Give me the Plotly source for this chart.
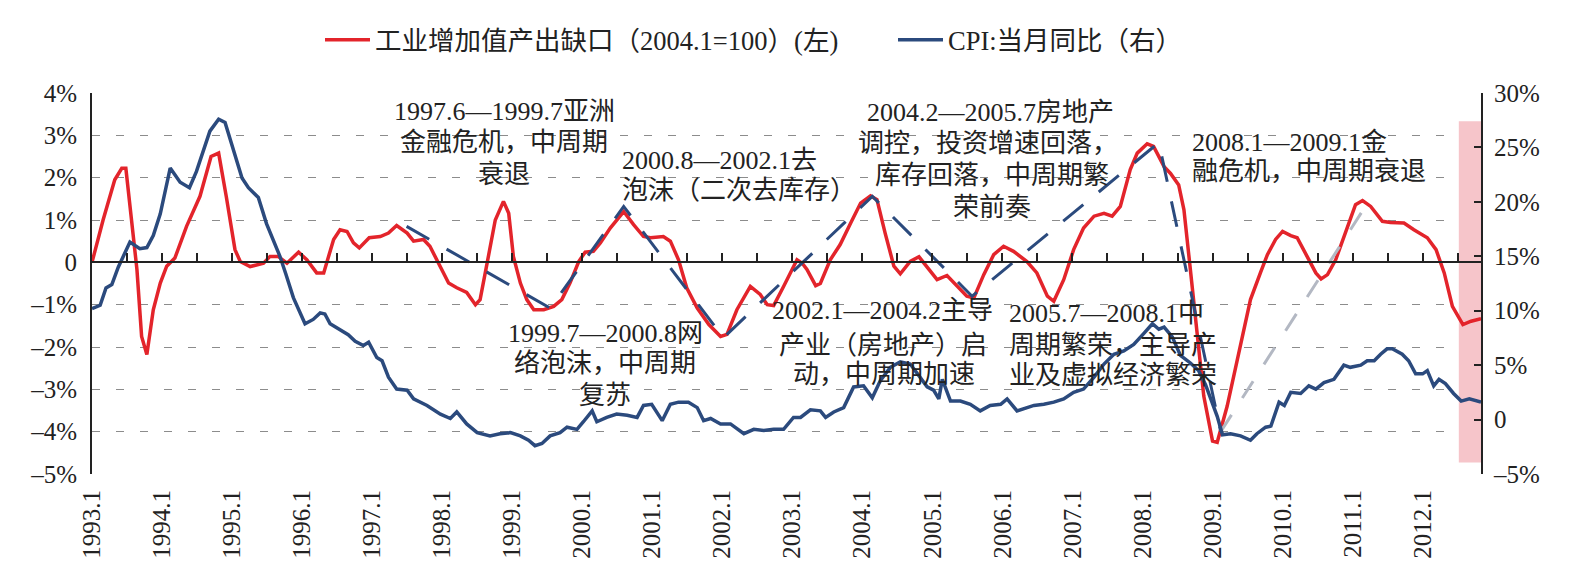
import plotly.graph_objects as go

# ---------------- data ----------------
# x = months since 1993.1 (0 = 1993.1)
years = list(range(1993, 2013))
x_ticklabels = [f"{y}.1" for y in years]

red_t = [0, 1.9, 3.9, 5.1, 5.8, 6.5, 7.7, 8.5, 9.4, 10.5, 11.7, 12.8, 14.2, 16.2, 18.5, 20.4, 21.7, 23,
         24.5, 25.4, 27.1, 29.4, 30.5, 31.9, 33.4, 35.4, 36.8, 38.5, 39.7, 41.4, 42.5, 43.7, 44.8, 45.8,
         47.5, 49.4, 50.8, 52.2, 54, 55.1, 56.8, 57.9, 59.7, 61.1, 62.5, 64.2, 65.7, 66.5, 67.7, 69.1,
         70.5, 71.4, 72.2, 73.4, 74.5, 75.7, 77.4, 79.1, 80.5, 81.9, 83.4, 84.5, 85.9, 87.1, 88.8, 91.1,
         92.8, 94.5, 95.7, 97.9, 99.1, 100.5, 101.9, 103.7, 105.7, 107.7, 108.8, 110.5, 112.8, 114.5,
         115.7, 116.8, 118.5, 120.8, 121.7, 122.5, 124, 124.8, 126.5, 128.2, 130, 131.7, 133.4, 134.5,
         135.9, 137.4, 138.5, 140.2, 141.7, 143.4, 144.8, 146.5, 148.2, 149.9, 151.1, 152.8, 154.5,
         156.2, 157.9, 160.2, 161.9, 163.7, 164.8, 166.5, 168.2, 169.9, 171.7, 173.4, 174.8, 176.2,
         177.9, 179.1, 180.8, 181.9, 183.7, 184.8, 186.2, 187.1, 188.2, 189.4, 190.5, 192, 192.8, 194.5,
         196.8, 198.5, 200.2, 201.4, 202.8, 204, 205.4, 206.5, 208.2, 209.7, 210.6, 211.7, 213.1, 214.8,
         216.5, 217.7, 219.1, 221.1, 222.5, 224.8, 226.5, 228.8, 230.3, 231.7, 233.1, 234.9, 236.3, 238]
red_v = [0.0, 1.0, 1.95, 2.22, 2.22, 1.4, -0.17, -1.75, -2.18, -1.12, -0.49, -0.09, 0.1, 0.85, 1.56, 2.5,
         2.58, 1.56, 0.3, 0.02, -0.1, -0.02, 0.14, 0.14, -0.02, 0.24, 0.06, -0.25, -0.25, 0.54, 0.77, 0.73,
         0.46, 0.34, 0.58, 0.61, 0.69, 0.87, 0.69, 0.5, 0.54, 0.38, -0.09, -0.49, -0.6, -0.71, -1.0, -0.88,
         -0.02, 1.0, 1.44, 1.16, 0.14, -0.49, -0.88, -1.12, -1.12, -1.04, -0.88, -0.49, 0.02, 0.24, 0.26,
         0.46, 0.81, 1.2, 0.89, 0.61, 0.58, 0.61, 0.5, 0.06, -0.6, -1.08, -1.47, -1.75, -1.7, -1.12, -0.57,
         -0.76, -1.0, -1.02, -0.57, 0.06, -0.02, -0.17, -0.55, -0.5, 0.06, 0.42, 0.93, 1.4, 1.57, 1.48, 0.69,
         -0.09, -0.27, 0.02, 0.13, -0.17, -0.41, -0.31, -0.57, -0.8, -0.84, -0.29, 0.18, 0.38, 0.26, 0.02,
         -0.25, -0.8, -0.92, -0.41, 0.3, 0.81, 1.09, 1.16, 1.09, 1.32, 2.19, 2.58, 2.8, 2.74, 2.26, 2.1,
         1.83, 1.24, -0.17, -1.75, -3.16, -4.22, -4.25, -3.4, -1.98, -0.88, -0.25, 0.18, 0.54, 0.73, 0.63,
         0.58, 0.14, -0.25, -0.39, -0.29, 0.06, 0.69, 1.36, 1.46, 1.32, 0.97, 0.94, 0.93, 0.77, 0.58, 0.3,
         -0.25, -1.04, -1.47, -1.39, -1.33]

cpi_t = [0, 1.4, 2.4, 3.4, 4.5, 6.5, 8.2, 9.4, 10.5, 11.7, 13.4, 15.1, 16.7, 17.9, 20.2, 21.7, 22.8, 24.2,
         25.7, 26.8, 28.5, 29.9, 31.4, 32.2, 33.2, 34.5, 36.5, 37.9, 39.1, 39.9, 40.8, 42.5, 43.9, 45.1,
         46.5, 47.4, 48.8, 49.7, 50.8, 52.2, 54, 55.1, 57.4, 59.7, 61.4, 62.5, 64.2, 66, 68.2, 69.9, 71.7,
         73.4, 74.8, 75.9, 77.1, 78.5, 80.2, 81.4, 83.1, 84.2, 85.7, 86.5, 88.2, 89.9, 91.7, 93.4, 94.5,
         95.9, 97.7, 99.1, 100.5, 102.2, 103.7, 104.8, 106, 107.7, 109.4, 111.7, 113.4, 115.1, 116.8,
         118.5, 120.2, 121.4, 123.1, 124.8, 125.7, 127.1, 128.8, 130.5, 132.2, 133.7, 135.1, 136.8, 138.5,
         140.2, 141.9, 143.1, 144.2, 145.1, 145.7, 147.1, 148.8, 150.5, 152.2, 153.9, 155.7, 156.8, 158.5,
         160.2, 161.4, 163.1, 164.8, 166.5, 168.2, 169.9, 171.7, 173.4, 175.1, 176.8, 178.5, 180.2, 181.7,
         182.8, 183.7, 185.1, 186.5, 188.2, 189.6, 190.8, 192, 192.8, 193.7, 195.1, 196.8, 198.5, 199.6,
         201.1, 202, 203.4, 204.3, 205.4, 207.1, 208.5, 209.7, 211.1, 212.8, 214.5, 215.6, 217.4, 218.5,
         219.7, 220.8, 221.9, 222.8, 224.5, 225.6, 226.8, 228, 228.8, 229.9, 230.8, 231.9, 233.3, 234.6,
         236, 238]
cpi_v = [10.2, 10.5, 12.1, 12.4, 14.0, 16.3, 15.7, 15.8, 16.9, 18.9, 23.1, 21.8, 21.3, 22.8, 26.5, 27.6,
         27.3, 24.7, 22.2, 21.3, 20.4, 18.0, 16.0, 15.0, 13.4, 11.2, 8.8, 9.2, 9.8, 9.7, 8.8, 8.3, 7.8, 7.2,
         6.8, 7.1, 5.7, 5.4, 3.9, 2.8, 2.7, 1.9, 1.3, 0.5, 0.1, 0.7, -0.4, -1.2, -1.5, -1.3, -1.2, -1.5,
         -1.9, -2.4, -2.2, -1.5, -1.2, -0.7, -0.9, -0.2, 0.8, -0.2, 0.2, 0.5, 0.4, 0.2, 1.3, 1.4, -0.1, 1.4,
         1.6, 1.6, 1.1, -0.1, 0.1, -0.4, -0.4, -1.3, -0.9, -1.0, -0.9, -0.9, 0.2, 0.2, 0.9, 0.8, 0.2, 0.7,
         1.1, 3.0, 3.1, 2.0, 3.6, 4.8, 5.3, 5.1, 3.9, 3.0, 2.7, 1.9, 3.7, 1.7, 1.7, 1.4, 0.8, 1.3, 1.4, 1.9,
         0.8, 1.1, 1.3, 1.4, 1.6, 1.9, 2.5, 2.8, 3.9, 5.1, 6.0, 6.3, 6.9, 7.9, 8.8, 8.3, 8.5, 7.6, 5.9, 5.2,
         4.5, 3.2, 1.4, 0.3, -1.4, -1.3, -1.5, -1.9, -1.3, -0.7, -0.6, 1.6, 1.3, 2.5, 2.4, 3.1, 2.8, 3.4,
         3.7, 5.0, 4.8, 5.0, 5.4, 5.4, 6.0, 6.5, 6.5, 6.0, 5.4, 4.2, 4.2, 4.5, 3.1, 3.7, 3.3, 2.4, 1.7, 1.9,
         1.6]

# hand-drawn cycle trend lines (left axis units)
trend_t = [53.9, 78.5, 91.1, 108.2, 133.7, 150.8, 182.8, 193.4]
trend_v = [0.85, -1.08, 1.32, -1.78, 1.56, -0.80, 2.83, -4.00]
recovery_t = [193.4, 218.0]
recovery_v = [-4.00, 1.28]

# highlighted latest period
highlight_t = [234.2, 238]
highlight_v = [-4.73, 3.33]

left_tickvals = [4, 3, 2, 1, 0, -1, -2, -3, -4, -5]
left_ticktext = ["4%", "3%", "2%", "1%", "0", "–1%", "–2%", "–3%", "–4%", "–5%"]
right_tickvals = [30, 25, 20, 15, 10, 5, 0, -5]
right_ticktext = ["30%", "25%", "20%", "15%", "10%", "5%", "0", "–5%"]

legend_red = "工业增加值产出缺口（2004.1=100）(左)"
legend_blue = "CPI:当月同比（右）"

# annotation lines: (text, x_px, y_px, align)
notes = [
    ("1997.6—1999.7亚洲", 504, 111, "center"),
    ("金融危机，中周期", 504, 142, "center"),
    ("衰退", 504, 174, "center"),
    ("2000.8—2002.1去", 620, 160, "left"),
    ("泡沫（二次去库存）", 620, 190, "left"),
    ("2004.2—2005.7房地产", 990, 112, "center"),
    ("调控，投资增速回落，", 988, 143, "center"),
    ("库存回落，中周期繁", 992, 175, "center"),
    ("荣前奏", 992, 207, "center"),
    ("2008.1—2009.1金", 1190, 142, "left"),
    ("融危机，中周期衰退", 1190, 171, "left"),
    ("1999.7—2000.8网", 605, 333, "center"),
    ("络泡沫，中周期", 605, 364, "center"),
    ("复苏", 605, 395, "center"),
    ("2002.1—2004.2主导", 883, 310, "center"),
    ("产业（房地产）启", 883, 345, "center"),
    ("动，中周期加速", 884, 374, "center"),
    ("2005.7—2008.1中", 1007, 313, "left"),
    ("周期繁荣，主导产", 1007, 345, "left"),
    ("业及虚拟经济繁荣", 1007, 375, "left"),
]

# ---------------- figure ----------------
W, H = 1586, 579
ML, MR, MT, MB = 92, 105, 93, 105
PW, PH = W - ML - MR, H - MT - MB
FONT = "Liberation Serif, 'Noto Sans CJK SC', serif"
RED = "#E3242B"
NAVY = "#2B4A7D"
TXT = "#222222"

def px_to_paper(xp, yp):
    return (xp - ML) / PW, (H - MB - yp) / PH

fig = go.Figure()

fig.add_trace(go.Scatter(x=cpi_t, y=cpi_v, yaxis="y2", mode="lines", name=legend_blue,
                         line=dict(color=NAVY, width=3.5), showlegend=False))
fig.add_trace(go.Scatter(x=red_t, y=red_v, mode="lines", name=legend_red,
                         line=dict(color=RED, width=3.5)))
fig.add_trace(go.Scatter(x=[None], y=[None], mode="lines", name=legend_blue,
                         line=dict(color=NAVY, width=3.5)))
fig.add_trace(go.Scatter(x=trend_t, y=trend_v, mode="lines", showlegend=False,
                         line=dict(color=NAVY, width=3, dash="26px,20px")))
fig.add_trace(go.Scatter(x=recovery_t, y=recovery_v, mode="lines", showlegend=False,
                         line=dict(color="#B3B8C3", width=3, dash="20px,20px")))
# helper trace to carry the zero-line axis with its tick marks
fig.add_trace(go.Scatter(x=[0, 238], y=[0, 0], xaxis="x2", mode="lines", showlegend=False,
                         line=dict(color="rgba(0,0,0,0)", width=0), hoverinfo="skip"))

fig.add_shape(type="rect", xref="x", yref="y", x0=highlight_t[0], x1=highlight_t[1],
              y0=highlight_v[0], y1=highlight_v[1], fillcolor="#F6C5CA", line=dict(width=0),
              layer="between")

annotations = []
for text, xp, yp, align in notes:
    xx, yy = px_to_paper(xp, yp)
    annotations.append(dict(text=text, x=xx, y=yy, xref="paper", yref="paper",
                            xanchor=("left" if align == "left" else "center"), yanchor="middle",
                            showarrow=False, font=dict(family=FONT, size=26, color=TXT)))

lx, ly = px_to_paper(320, 40)

fig.update_layout(
    width=W, height=H,
    margin=dict(l=ML, r=MR, t=MT, b=MB, autoexpand=False),
    paper_bgcolor="white", plot_bgcolor="white",
    font=dict(family=FONT, size=24, color=TXT),
    showlegend=True,
    legend=dict(orientation="h", x=lx, y=ly, xanchor="left", yanchor="middle",
                font=dict(family=FONT, size=26.5, color=TXT), itemwidth=45,
                entrywidth=513, entrywidthmode="pixels",
                bgcolor="rgba(0,0,0,0)", traceorder="normal"),
    annotations=annotations,
    xaxis=dict(range=[0, 238], tickvals=[12 * i for i in range(len(years))], ticktext=x_ticklabels,
               tickangle=-90, ticks="", showline=False, showgrid=False, zeroline=False,
               ticklabelstandoff=10, tickfont=dict(family=FONT, size=25, color=TXT)),
    xaxis2=dict(range=[0, 238], overlaying="x", anchor="free", position=5 / 9, side="bottom",
                showline=True, linecolor="#222222", linewidth=2, ticks="inside", ticklen=8,
                tickwidth=1.5, tickcolor="#222222", tickvals=list(range(0, 239, 6)),
                showticklabels=False, showgrid=False, zeroline=False),
    yaxis=dict(range=[-5, 4], tickvals=left_tickvals, ticktext=left_ticktext, showline=True,
               linecolor="#222222", linewidth=2, ticks="", showgrid=True, gridcolor="#8C8C8C",
               gridwidth=1, griddash="8px,16px", zeroline=False, ticklabelstandoff=8,
               tickfont=dict(family=FONT, size=25, color=TXT)),
    yaxis2=dict(range=[-5, 30], tickvals=right_tickvals, ticktext=right_ticktext, overlaying="y",
                side="right", showline=True, linecolor="#222222", linewidth=2, ticks="inside",
                ticklen=7, tickwidth=1.5, tickcolor="#222222", showgrid=False, zeroline=False,
                ticklabelstandoff=6, tickfont=dict(family=FONT, size=25, color=TXT)),
)

fig.write_html("out.html")
